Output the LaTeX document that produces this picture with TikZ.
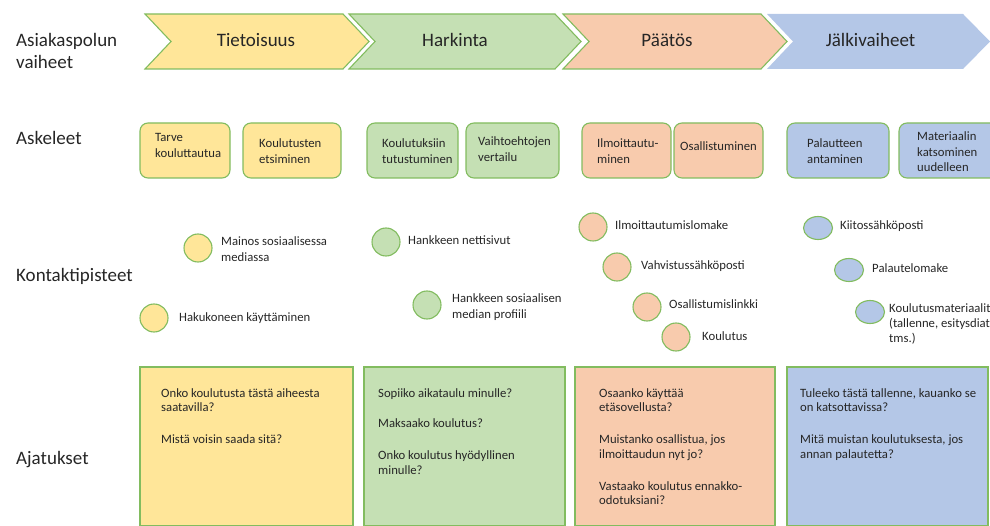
\documentclass[tikz,border=0pt]{standalone}
\usepackage{fontspec}
\setmainfont{Carlito}
\usetikzlibrary{shapes.geometric}
\definecolor{cyel}{HTML}{FFE699}
\definecolor{cgrn}{HTML}{C5E0B4}
\definecolor{corg}{HTML}{F8CBAD}
\definecolor{cblu}{HTML}{B4C7E7}
\definecolor{cedge}{HTML}{82BC5F}
\definecolor{ctext}{HTML}{262626}
\begin{document}
\begin{tikzpicture}[x=1pt,y=-1pt,
  chev/.style={draw=cedge,line width=1.1pt,line join=miter},
  biglab/.style={font=\fontsize{19}{22}\selectfont,text=ctext,inner sep=0pt,align=left,anchor=base west},
  chevlab/.style={font=\fontsize{19}{22}\selectfont,text=ctext,inner sep=0pt,anchor=base},
  stepbox/.style={draw=cedge,line width=1.1pt,rounded corners=8pt,inner sep=0pt,minimum height=55pt},
  dot/.style={circle,draw=cedge,line width=1.1pt,minimum size=28pt,inner sep=0pt},
  bdot/.style={ellipse,draw=cedge,line width=1.1pt,minimum width=29pt,minimum height=23pt,inner sep=0pt},
  txt/.style={font=\fontsize{12.7}{15.3}\selectfont,text=ctext,inner sep=0pt,align=left,anchor=base west},
  ttxt/.style={font=\fontsize{12.7}{14.5}\selectfont,text=ctext,inner sep=0pt,align=left,anchor=base west},
  thbox/.style={draw=cedge,line width=1.1pt}
]
\useasboundingbox (0,0) rectangle (990,526);

% row labels (base anchor = baseline of the last line)
\node[biglab] (lvaiheet) at (16,68.5) {Asiakaspolun\\vaiheet};
\node[biglab] (laskeleet) at (16,145) {Askeleet};
\node[biglab] (lkontakti) at (16,282) {Kontaktipisteet};
\node[biglab] (lajatukset) at (16,464) {Ajatukset};

% chevrons
\path[chev,fill=cyel] (145,14) -- (343,14) -- (369,41.5) -- (343,69) -- (145,69) -- (171,41.5) -- cycle;
\path[chev,fill=cgrn] (349,14) -- (555,14) -- (581,41.5) -- (555,69) -- (349,69) -- (375,41.5) -- cycle;
\path[chev,fill=corg] (563,14) -- (761,14) -- (787,41.5) -- (761,69) -- (563,69) -- (589,41.5) -- cycle;
\path[fill=cblu] (767,14) -- (963,14) -- (990,41.5) -- (963,69) -- (767,69) -- (793,41.5) -- cycle;
\node[chevlab] (ctiet) at (256,47) {Tietoisuus};
\node[chevlab] (chark) at (455,47) {Harkinta};
\node[chevlab] (cpaat) at (667,47) {Päätös};
\node[chevlab] (cjalk) at (870.5,47) {Jälkivaiheet};

% steps
\node[stepbox,fill=cyel,minimum width=90pt] (s1) at (185,150.5) {};
\node[stepbox,fill=cyel,minimum width=98pt] (s2) at (292,150.5) {};
\node[stepbox,fill=cgrn,minimum width=91pt] (s3) at (412.5,150.5) {};
\node[stepbox,fill=cgrn,minimum width=93pt] (s4) at (512.5,150.5) {};
\node[stepbox,fill=corg,minimum width=89pt] (s5) at (626.5,150.5) {};
\node[stepbox,fill=corg,minimum width=89pt] (s6) at (718.5,150.5) {};
\node[stepbox,fill=cblu,minimum width=102pt] (s7) at (838,150.5) {};
\node[stepbox,fill=cblu,minimum width=102pt] (s8) at (950,150.5) {};
\node[txt] (t1) at (155,157.3) {Tarve\\kouluttautua};
\node[txt] (t2) at (259,163.3) {Koulutusten\\etsiminen};
\node[txt] (t3) at (382,163.3) {Koulutuksiin\\tutustuminen};
\node[txt] (t4) at (478,161.3) {Vaihtoehtojen\\vertailu};
\node[txt] (t5) at (597,163.3) {Ilmoittautu-\\minen};
\node[txt] (t6) at (680,151) {Osallistuminen};
\node[txt] (t7) at (807,163.3) {Palautteen\\antaminen};
\node[txt] (t8) at (917,171.6) {Materiaalin\\katsominen\\uudelleen};

% contact points
\node[dot,fill=cyel] (k1) at (198,248) {};
\node[txt] (kt1) at (221,261.3) {Mainos sosiaalisessa\\mediassa};
\node[dot,fill=cyel] (k2) at (154,318) {};
\node[txt] (kt2) at (179,322) {Hakukoneen käyttäminen};
\node[dot,fill=cgrn] (k3) at (386,242) {};
\node[txt] (kt3) at (408,245) {Hankkeen nettisivut};
\node[dot,fill=cgrn] (k4) at (427,305) {};
\node[txt] (kt4) at (452,318.3) {Hankkeen sosiaalisen\\median profiili};
\node[dot,fill=corg] (k5) at (593,227) {};
\node[txt] (kt5) at (615,230) {Ilmoittautumislomake};
\node[dot,fill=corg] (k6) at (617,267) {};
\node[txt] (kt6) at (641,270) {Vahvistussähköposti};
\node[dot,fill=corg] (k7) at (647,307) {};
\node[txt] (kt7) at (669,309) {Osallistumislinkki};
\node[dot,fill=corg] (k8) at (676,337) {};
\node[txt] (kt8) at (702,341) {Koulutus};
\node[bdot,fill=cblu] (k9) at (818,228) {};
\node[txt] (kt9) at (840,230) {Kiitossähköposti};
\node[bdot,fill=cblu] (k10) at (849,270) {};
\node[txt] (kt10) at (872,273) {Palautelomake};
\node[bdot,fill=cblu] (k11) at (870,312) {};
\node[ttxt] (kt11) at (889,342) {Koulutusmateriaalit\\(tallenne, esitysdiat\\tms.)};

% thoughts
\path[thbox,fill=cyel] (140,367) rectangle (353,525.5);
\path[thbox,fill=cgrn] (364,367) rectangle (565,525.5);
\path[thbox,fill=corg] (575,367) rectangle (775,525.5);
\path[thbox,fill=cblu] (787,367) rectangle (988,525.5);
\node[ttxt] (a1) at (161,443.5) {Onko koulutusta tästä aiheesta\\saatavilla?\\[17.5pt]Mistä voisin saada sitä?};
\node[ttxt] (a2) at (378,474) {Sopiiko aikataulu minulle?\\[16pt]Maksaako koulutus?\\[17.5pt]Onko koulutus hyödyllinen\\minulle?};
\node[ttxt] (a3) at (599,504.5) {Osaanko käyttää\\etäsovellusta?\\[17.5pt]Muistanko osallistua, jos\\ilmoittaudun nyt jo?\\[17.5pt]Vastaako koulutus ennakko-\\odotuksiani?};
\node[ttxt] (a4) at (800,458) {Tuleeko tästä tallenne, kauanko se\\on katsottavissa?\\[17.5pt]Mitä muistan koulutuksesta, jos\\annan palautetta?};
\end{tikzpicture}
\end{document}
